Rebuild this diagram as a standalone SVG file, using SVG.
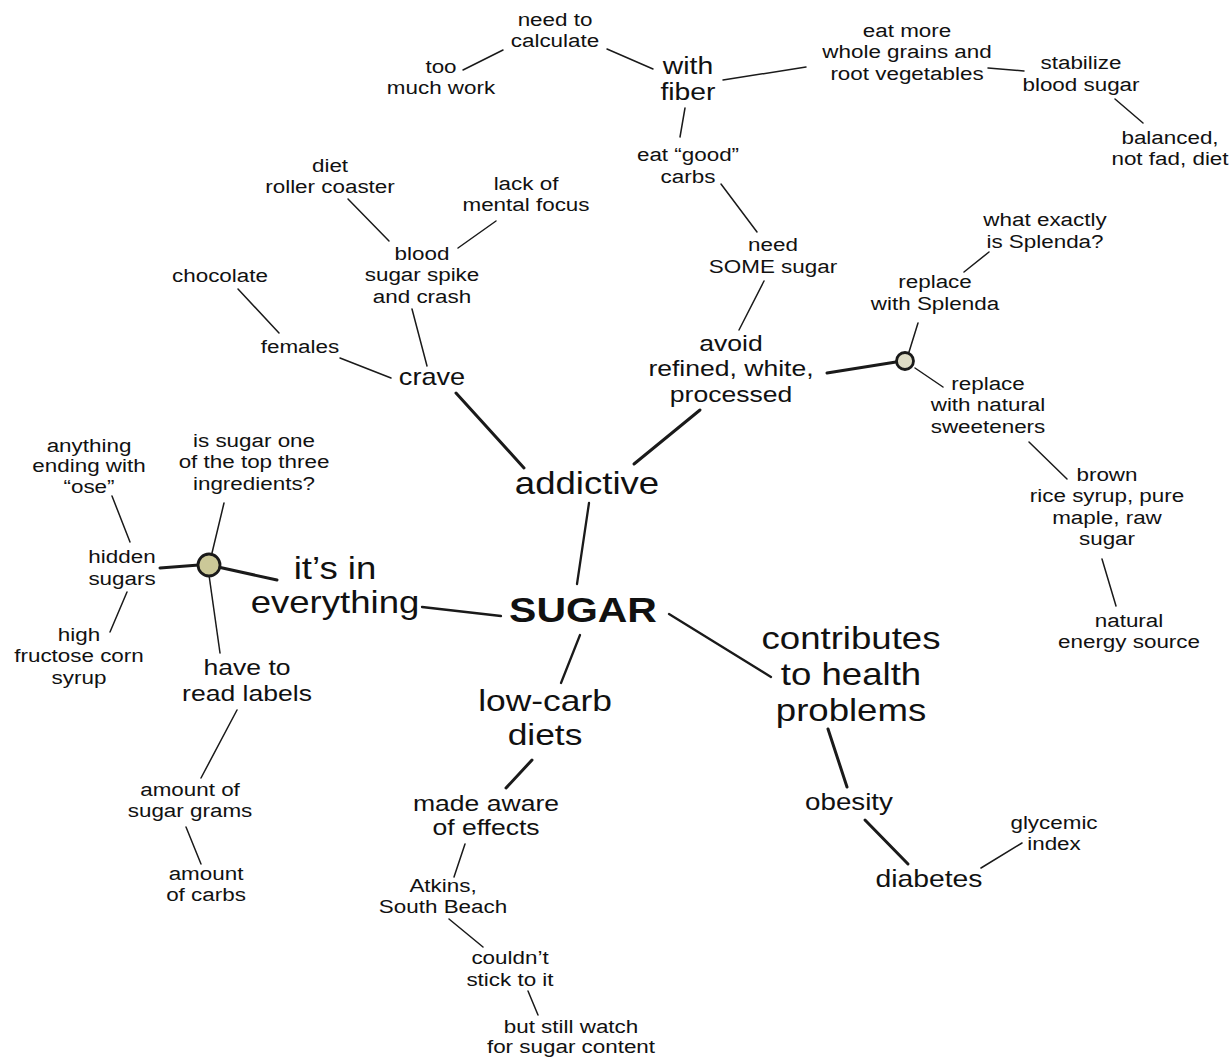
<svg xmlns="http://www.w3.org/2000/svg" width="1232" height="1061" viewBox="0 0 1232 1061">
<style>
text{font-family:"Liberation Sans",Arial,sans-serif;fill:#111;text-anchor:middle}
.s{font-size:19px}
.m{font-size:22.5px}
.l{font-size:24px}
.xl{font-size:31px}
.hub{font-size:35px;font-weight:bold}
.c line{stroke:#1a1a1a;stroke-linecap:round}
.t1{stroke-width:1.5}
.t2{stroke-width:2.3}
.t3{stroke-width:3}
.dot{stroke:#1a1a1a;stroke-width:2.8}
</style>
<rect width="1232" height="1061" fill="#fff"/>
<g class="c" id="connectors">
<line class="t1" x1="463" y1="70" x2="503" y2="50"/>
<line class="t1" x1="607" y1="49" x2="653" y2="69"/>
<line class="t1" x1="723" y1="80" x2="806" y2="67"/>
<line class="t1" x1="685" y1="108" x2="680" y2="137"/>
<line class="t1" x1="988" y1="68" x2="1024" y2="71"/>
<line class="t1" x1="1115" y1="99" x2="1143" y2="123"/>
<line class="t1" x1="721" y1="184" x2="757" y2="232"/>
<line class="t1" x1="764" y1="281" x2="739" y2="330"/>
<line class="t3" x1="827" y1="373" x2="896" y2="362"/>
<line class="t1" x1="909" y1="352" x2="918" y2="323"/>
<line class="t1" x1="964" y1="272" x2="989" y2="252"/>
<line class="t1" x1="915" y1="368" x2="943" y2="387"/>
<line class="t1" x1="1029" y1="442" x2="1067" y2="479"/>
<line class="t1" x1="1102" y1="559" x2="1116" y2="606"/>
<line class="t1" x1="348" y1="199" x2="389" y2="241"/>
<line class="t1" x1="496" y1="221" x2="458" y2="248"/>
<line class="t1" x1="412" y1="309" x2="427" y2="366"/>
<line class="t1" x1="238" y1="289" x2="279" y2="333"/>
<line class="t1" x1="340" y1="358" x2="391" y2="378"/>
<line class="t3" x1="456" y1="393" x2="524" y2="468"/>
<line class="t3" x1="700" y1="410" x2="634" y2="464"/>
<line class="t2" x1="589" y1="503" x2="577" y2="584"/>
<line class="t2" x1="422" y1="607" x2="501" y2="616"/>
<line class="t3" x1="277" y1="580" x2="218" y2="567"/>
<line class="t3" x1="199" y1="565" x2="160" y2="568"/>
<line class="t1" x1="212" y1="553" x2="224" y2="503"/>
<line class="t1" x1="209" y1="575" x2="220" y2="653"/>
<line class="t1" x1="112" y1="496" x2="130" y2="542"/>
<line class="t1" x1="127" y1="592" x2="110" y2="632"/>
<line class="t1" x1="237" y1="710" x2="201" y2="778"/>
<line class="t1" x1="186" y1="827" x2="201" y2="864"/>
<line class="t2" x1="580" y1="635" x2="561" y2="683"/>
<line class="t3" x1="532" y1="760" x2="506" y2="788"/>
<line class="t1" x1="465" y1="844" x2="454" y2="877"/>
<line class="t1" x1="449" y1="919" x2="483" y2="947"/>
<line class="t1" x1="528" y1="991" x2="538" y2="1015"/>
<line class="t2" x1="669" y1="614" x2="771" y2="677"/>
<line class="t3" x1="828" y1="729" x2="847" y2="787"/>
<line class="t3" x1="865" y1="820" x2="908" y2="864"/>
<line class="t1" x1="981" y1="868" x2="1022" y2="843"/>
</g>
<g id="junction-avoid"><circle class="dot" cx="905" cy="361" r="8.5" fill="#dedcc6"/></g>
<g id="junction-everything"><circle class="dot" cx="209" cy="565" r="11" fill="#cbc898"/></g>
<g id="n-sugar"><text class="hub" transform="translate(583,622) scale(1.17,1)">SUGAR</text></g>
<g id="n-addictive"><text class="xl" transform="translate(587,494) scale(1.18,1)">addictive</text></g>
<g id="n-everything"><text class="xl" transform="translate(335,579) scale(1.18,1)"><tspan x="0">it’s in</tspan><tspan x="0" dy="34">everything</tspan></text></g>
<g id="n-lowcarb"><text class="xl" transform="translate(545,711) scale(1.18,1)" style="font-size:30px"><tspan x="0">low-carb</tspan><tspan x="0" dy="34">diets</tspan></text></g>
<g id="n-contributes"><text class="xl" transform="translate(851,649) scale(1.18,1)"><tspan x="0">contributes</tspan><tspan x="0" dy="36">to health</tspan><tspan x="0" dy="36">problems</tspan></text></g>
<g id="n-crave"><text class="l" transform="translate(432,385) scale(1.18,1)" style="font-size:23px">crave</text></g>
<g id="n-avoid"><text class="m" transform="translate(731,351) scale(1.18,1)"><tspan x="0">avoid</tspan><tspan x="0" dy="25.5">refined, white,</tspan><tspan x="0" dy="25.5">processed</tspan></text></g>
<g id="n-withfiber"><text class="l" transform="translate(688,74) scale(1.18,1)"><tspan x="0">with</tspan><tspan x="0" dy="26">fiber</tspan></text></g>
<g id="n-readlabels"><text class="m" transform="translate(247,675) scale(1.18,1)"><tspan x="0">have to</tspan><tspan x="0" dy="26">read labels</tspan></text></g>
<g id="n-madeaware"><text class="m" transform="translate(486,811) scale(1.18,1)"><tspan x="0">made aware</tspan><tspan x="0" dy="24">of effects</tspan></text></g>
<g id="n-obesity"><text class="l" transform="translate(849,810) scale(1.18,1)" style="font-size:23.5px">obesity</text></g>
<g id="n-diabetes"><text class="l" transform="translate(929,887) scale(1.18,1)">diabetes</text></g>
<g id="n-calculate"><text class="s" transform="translate(555,26) scale(1.18,1)"><tspan x="0">need to</tspan><tspan x="0" dy="21">calculate</tspan></text></g>
<g id="n-toomuch"><text class="s" transform="translate(441,73) scale(1.18,1)"><tspan x="0">too</tspan><tspan x="0" dy="21">much work</tspan></text></g>
<g id="n-wholegrains"><text class="s" transform="translate(907,37) scale(1.18,1)"><tspan x="0">eat more</tspan><tspan x="0" dy="21.5">whole grains and</tspan><tspan x="0" dy="21.5">root vegetables</tspan></text></g>
<g id="n-stabilize"><text class="s" transform="translate(1081,69) scale(1.18,1)"><tspan x="0">stabilize</tspan><tspan x="0" dy="22">blood sugar</tspan></text></g>
<g id="n-balanced"><text class="s" transform="translate(1170,144) scale(1.18,1)"><tspan x="0">balanced,</tspan><tspan x="0" dy="21">not fad, diet</tspan></text></g>
<g id="n-goodcarbs"><text class="s" transform="translate(688,161) scale(1.18,1)"><tspan x="0">eat “good”</tspan><tspan x="0" dy="22">carbs</tspan></text></g>
<g id="n-somesugar"><text class="s" transform="translate(773,251) scale(1.18,1)"><tspan x="0">need</tspan><tspan x="0" dy="22">SOME sugar</tspan></text></g>
<g id="n-splenda"><text class="s" transform="translate(935,288) scale(1.18,1)"><tspan x="0">replace</tspan><tspan x="0" dy="22">with Splenda</tspan></text></g>
<g id="n-whatsplenda"><text class="s" transform="translate(1045,226) scale(1.18,1)"><tspan x="0">what exactly</tspan><tspan x="0" dy="22">is Splenda?</tspan></text></g>
<g id="n-natural"><text class="s" transform="translate(988,390) scale(1.18,1)"><tspan x="0">replace</tspan><tspan x="0" dy="21.5">with natural</tspan><tspan x="0" dy="21.5">sweeteners</tspan></text></g>
<g id="n-brown"><text class="s" transform="translate(1107,481) scale(1.18,1)"><tspan x="0">brown</tspan><tspan x="0" dy="21.5">rice syrup, pure</tspan><tspan x="0" dy="21.5">maple, raw</tspan><tspan x="0" dy="21.5">sugar</tspan></text></g>
<g id="n-energy"><text class="s" transform="translate(1129,627) scale(1.18,1)"><tspan x="0">natural</tspan><tspan x="0" dy="21.5">energy source</tspan></text></g>
<g id="n-diet"><text class="s" transform="translate(330,172) scale(1.18,1)"><tspan x="0">diet</tspan><tspan x="0" dy="21.5">roller coaster</tspan></text></g>
<g id="n-focus"><text class="s" transform="translate(526,190) scale(1.18,1)"><tspan x="0">lack of</tspan><tspan x="0" dy="21.5">mental focus</tspan></text></g>
<g id="n-spike"><text class="s" transform="translate(422,260) scale(1.18,1)"><tspan x="0">blood</tspan><tspan x="0" dy="21.5">sugar spike</tspan><tspan x="0" dy="21.5">and crash</tspan></text></g>
<g id="n-chocolate"><text class="s" transform="translate(220,282) scale(1.18,1)">chocolate</text></g>
<g id="n-females"><text class="s" transform="translate(300,353) scale(1.18,1)">females</text></g>
<g id="n-topthree"><text class="s" transform="translate(254,447) scale(1.18,1)"><tspan x="0">is sugar one</tspan><tspan x="0" dy="21.5">of the top three</tspan><tspan x="0" dy="21.5">ingredients?</tspan></text></g>
<g id="n-ose"><text class="s" transform="translate(89,452) scale(1.18,1)"><tspan x="0">anything</tspan><tspan x="0" dy="20.5">ending with</tspan><tspan x="0" dy="20.5">“ose”</tspan></text></g>
<g id="n-hidden"><text class="s" transform="translate(122,563) scale(1.18,1)"><tspan x="0">hidden</tspan><tspan x="0" dy="22">sugars</tspan></text></g>
<g id="n-hfcs"><text class="s" transform="translate(79,641) scale(1.18,1)"><tspan x="0">high</tspan><tspan x="0" dy="21.5">fructose corn</tspan><tspan x="0" dy="21.5">syrup</tspan></text></g>
<g id="n-sugargrams"><text class="s" transform="translate(190,796) scale(1.18,1)"><tspan x="0">amount of</tspan><tspan x="0" dy="21.5">sugar grams</tspan></text></g>
<g id="n-carbs"><text class="s" transform="translate(206,880) scale(1.18,1)"><tspan x="0">amount</tspan><tspan x="0" dy="21.5">of carbs</tspan></text></g>
<g id="n-atkins"><text class="s" transform="translate(443,892) scale(1.18,1)"><tspan x="0">Atkins,</tspan><tspan x="0" dy="21">South Beach</tspan></text></g>
<g id="n-stick"><text class="s" transform="translate(510,964) scale(1.18,1)"><tspan x="0">couldn’t</tspan><tspan x="0" dy="22">stick to it</tspan></text></g>
<g id="n-watch"><text class="s" transform="translate(571,1033) scale(1.18,1)"><tspan x="0">but still watch</tspan><tspan x="0" dy="20.5">for sugar content</tspan></text></g>
<g id="n-glycemic"><text class="s" transform="translate(1054,829) scale(1.18,1)"><tspan x="0">glycemic</tspan><tspan x="0" dy="21">index</tspan></text></g>
</svg>
